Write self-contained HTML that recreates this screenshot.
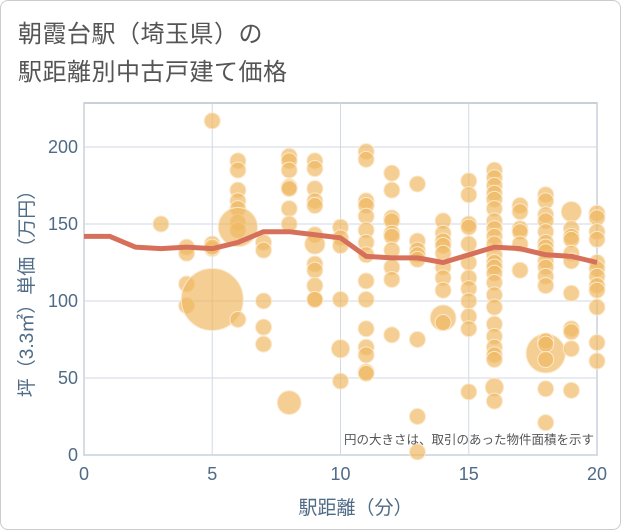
<!DOCTYPE html>
<html><head><meta charset="utf-8"><style>
body{margin:0;background:#fff;}
#wrap{position:relative;width:621px;height:530px;overflow:hidden;background:#fff;font-family:"Liberation Sans","Noto Sans CJK JP",sans-serif;}
#frame{position:absolute;left:0;top:0;width:619px;height:528px;border:1px solid #ccc;border-radius:8px;}
.title{position:absolute;left:18px;font-size:24px;color:#555;letter-spacing:0.5px;}
</style></head><body>
<div id="wrap">
<div id="frame"></div>
<div class="title" style="top:14px">朝霞台駅（埼玉県）の</div>
<div class="title" style="top:52px">駅距離別中古戸建て価格</div>
<svg id="chart" width="621" height="530" style="position:absolute;left:0;top:0"></svg>
</div>
<script>
const xTicks=[0,5,10,15,20];
const yTicks=[0,50,100,150,200];
const lineX=[0,1,2,3,4,5,6,7,8,9,10,11,12,13,14,15,16,17,18,19,20];
const lineY=[142,142,135,134,135,134,138,145,145,143,141,129,128,128,125,130,135,134,130,129,125];
const bubbleX=[3,4,4,4,4,5,5,5,5,5,6,6,6,6,6,6,6,6,6,7,7,7,7,7,8,8,8,8,8,8,8,8,
9,9,9,9,9,9,9,9,9,9,9,9,10,10,10,10,10,10,
11,11,11,11,11,11,11,11,11,11,11,11,11,11,11,
12,12,12,12,12,12,12,12,12,12,13,13,13,13,13,13,13,13,
14,14,14,14,14,14,14,14,14,14,15,15,15,15,15,15,15,15,15,15,15,15,
16,16,16,16,16,16,16,16,16,16,16,16,16,16,16,16,16,16,16,16,16,16,16,16,
17,17,17,17,17,17,18,18,18,18,18,18,18,18,18,18,18,18,18,18,18,18,18,18,
19,19,19,19,19,19,19,19,19,19,19,20,20,20,20,20,20,20,20,20,20,20,20];
const bubbleY=[150,135,131,111,97,217,137,134,101,135,191,185,172,165,160,151,146,148,88,138,133,100,83,72,194,191,185,174,173,160,150,34,
191,186,173,165,162,143,137,124,120,110,101,101,148,141,136,101,69,48,
197,192,165,162,155,146,138,130,113,101,82,70,65,54,53,
183,172,154,152,144,142,133,122,114,78,176,139,133,130,127,75,25,2,
152,144,139,136,131,122,115,107,89,86,178,169,150,148,137,125,115,108,100,90,82,41,
185,180,175,170,166,160,152,147,142,137,130,125,122,118,112,104,96,85,77,70,65,62,44,35,
162,158,147,145,137,120,169,165,156,152,145,138,135,132,126,122,116,110,66,74,72,62,43,21,
158,147,142,140,131,126,105,82,80,69,42,157,154,145,140,125,121,116,110,107,96,73,61];
const bubbleSize=[1,1,1,1,1,1,1,1,15,1,1,1,1,1,1,1,1,6,1,1,1,1,1,1,1,1,1,1,1,1,1,2.2,
1,1,1,1,1,1,1.6,1,1,1,1,1,1,1,1,1,1.3,1,
1,1,1,1,1,1,1,1,1,1,1,1,1,1,1,
1,1,1,1,1,1,1,1,1,1,1,1,1,1,1,1,1,1,
1,1,1,1,1,1,1,1,2.6,1,1,1,1,1,1,1,1,1,1,1,1,1,
1,1,1,1,1,1,1,1,1,1,1,1,1,1,1,1,1,1,1,1,1,1,1.3,1,
1,1,1,1,1,1,1,1,1,1,1,1,1,1,1,1,1,1,6,1,1,1,1,1,
1.6,1,1,1,1,1,1,1,1,1,1,1,1,1,1,1,1,1,1,1,1,1,1];
const L=84,R=597,T=103,B=455;
const sx=v=>L+(v-0)/(20-0)*(R-L);
const sy=v=>B-(v-0)/200*(B-147);
const NS='http://www.w3.org/2000/svg';
const svg=document.getElementById('chart');
function mk(t,a){const e=document.createElementNS(NS,t);for(const k in a)e.setAttribute(k,a[k]);svg.appendChild(e);return e;}
const bg=mk('rect',{x:L,y:T,width:R-L,height:B-T,fill:'#fff',stroke:'#b8c0c8','stroke-width':1.5});


xTicks.forEach(v=>{
 const g=mk('line',{x1:sx(v),x2:sx(v),y1:T,y2:B,stroke:'#d0dae4','stroke-width':1});
 
 
 const t=mk('text',{x:sx(v),y:B+25,'text-anchor':'middle','font-size':18,fill:'#4f6b86'});
 t.textContent=v;
 
 
});
yTicks.forEach(v=>{
 const g=mk('line',{x1:L,x2:R,y1:sy(v),y2:sy(v),stroke:'#d0dae4','stroke-width':1});
 
 
 const t=mk('text',{x:L-6,y:sy(v)+6,'text-anchor':'end','font-size':18,fill:'#4f6b86'});
 t.textContent=v;
 
 
});
bubbleX.forEach((x,i)=>{
 const c=mk('circle',{cx:sx(x),cy:sy(bubbleY[i]),r:8*Math.sqrt(bubbleSize[i]),fill:'rgba(240,185,100,0.7)',stroke:'#fbe9cc','stroke-width':1});
 
 
});
const p=mk('polyline',{points:lineX.map((x,i)=>sx(x)+','+sy(lineY[i])).join(' '),fill:'none',stroke:'#d7705a','stroke-width':5,'stroke-linejoin':'round'});


const n=mk('text',{x:R-3,y:B-11,'text-anchor':'end','font-size':12.5,fill:'#555'});
n.textContent='円の大きさは、取引のあった物件面積を示す';


const xt=mk('text',{x:(L+R)/2+15,y:514,'text-anchor':'middle','font-size':19,fill:'#4f6b86'});
xt.textContent='駅距離（分）';


const yt=mk('text',{x:0,y:0,'text-anchor':'middle','font-size':19,fill:'#4f6b86',transform:'translate(33,'+((T+B)/2+10)+') rotate(-90)'});
yt.textContent='坪（3.3㎡）単価（万円）';


</script>
</body></html>
